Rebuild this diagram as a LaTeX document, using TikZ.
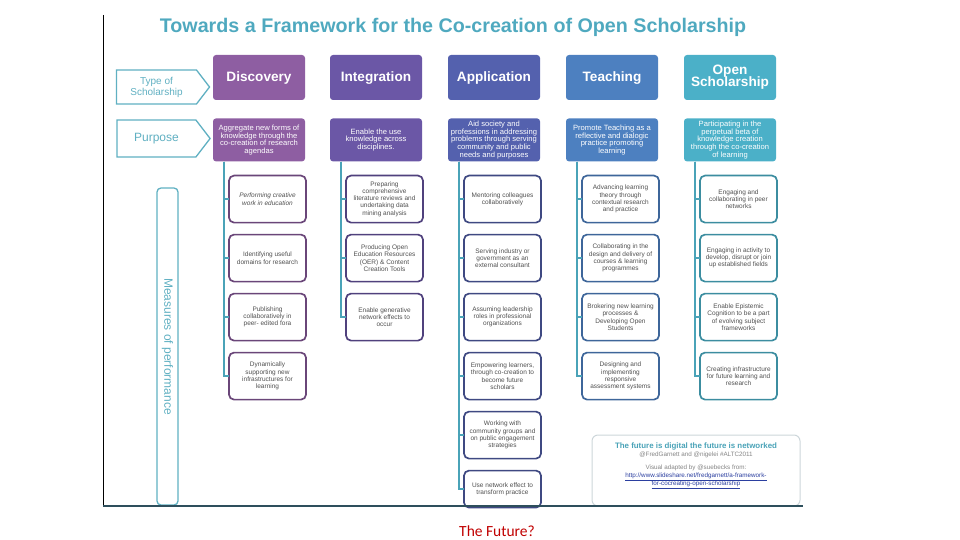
\documentclass[tikz,border=0pt]{standalone}
\usepackage{fontspec}
\setmainfont{Liberation Sans}
\newfontfamily\calib{Carlito}
\usetikzlibrary{positioning,shapes.symbols}
\definecolor{ttlteal}{RGB}{79,169,191}
\definecolor{tagteal}{RGB}{96,176,194}
\definecolor{linkteal}{RGB}{74,163,184}
\definecolor{cdis}{RGB}{142,94,162}
\definecolor{cint}{RGB}{107,87,166}
\definecolor{capp}{RGB}{84,97,174}
\definecolor{ctea}{RGB}{77,128,192}
\definecolor{cops}{RGB}{75,176,200}
\definecolor{txtgray}{RGB}{80,80,80}
\definecolor{notegray}{RGB}{205,214,218}
\definecolor{urlblue}{RGB}{43,63,160}
\definecolor{basecol}{RGB}{46,79,92}
\definecolor{futred}{RGB}{192,0,0}
\tikzset{
  head/.style={rounded corners=3pt, draw=none, text=white, align=center,
              minimum width=92pt, minimum height=45pt, inner sep=2pt, text depth=2.5pt,
              font=\fontsize{13.6}{14}\selectfont\bfseries},
  aim/.style={rounded corners=3pt, draw=none, text=white, align=center,
              minimum width=92pt, minimum height=43pt, inner sep=1pt,
              font=\fontsize{7.6}{7.7}\selectfont},
  perf/.style={rounded corners=5pt, line width=1.7pt, fill=white, align=center,
              minimum width=77pt, minimum height=47pt, inner sep=1pt, outer sep=0pt,
              text=txtgray, font=\fontsize{6.5}{7.2}\selectfont},
  tag/.style={signal, signal to=east, signal pointer angle=105, draw=tagteal,
              line width=1.3pt, fill=white, text=tagteal, align=center,
              minimum width=93pt, inner sep=1pt},
  stem/.style={draw=linkteal, line width=2pt},
}
\begin{document}
\begin{tikzpicture}[x=1pt,y=-1pt]
  \useasboundingbox (0,0) rectangle (960,540);

  \node[text=ttlteal, font=\fontsize{19.7}{21}\selectfont\bfseries] (ttl) at (453,27)
    {Towards a Framework for the Co-creation of Open Scholarship};

  % type of scholarship row
  \node[tag, minimum height=34pt, font=\fontsize{10}{11}\selectfont] (type) at (156.5,87)
    {Type of\\Scholarship};
  \node[head, fill=cdis] (dis) at (259,77.5) {Discovery};
  \node[head, fill=cint] (int) at (376,77.5) {Integration};
  \node[head, fill=capp] (app) at (494,77.5) {Application};
  \node[head, fill=ctea] (tea) at (612,77.5) {Teaching};
  \node[head, fill=cops] (ops) at (730,77.5) {Open\\[-2pt]Scholarship};

  % purpose row
  \node[tag, minimum height=37pt, font=\fontsize{12}{13}\selectfont] (purp) at (156.5,138.5) {Purpose};
  \node[aim, fill=cdis, below=18pt of dis] (disp)
    {Aggregate new forms of\\knowledge through the\\co-creation of research\\agendas};
  \node[aim, fill=cint, below=18pt of int] (intp)
    {Enable the use\\knowledge across\\disciplines.};
  \node[aim, fill=capp, below=18pt of app] (appp)
    {Aid society and\\professions in addressing\\problems through serving\\community and public\\needs and purposes};
  \node[aim, fill=ctea, below=18pt of tea] (teap)
    {Promote Teaching as a\\reflective and dialogic\\practice promoting\\learning};
  \node[aim, fill=cops, below=18pt of ops] (opsp)
    {Participating in the\\perpetual beta of\\knowledge creation\\through the co-creation\\of learning};

  % measures of performance
  \node[draw=tagteal, line width=1.3pt, rounded corners=4pt, rotate=-90,
        minimum width=317pt, minimum height=21pt, inner sep=0pt, text=tagteal,
        font=\fontsize{12}{13}\selectfont] (mop) at (167.5,346.5) {Measures of performance};

  % discovery
  \node[perf, draw=cdis!75!black, below=14pt of disp, xshift=8.5pt] (dis1)
    {\itshape Performing creative\\\itshape work in education};
  \node[perf, draw=cdis!75!black, below=12pt of dis1] (dis2) {Identifying useful\\domains for research};
  \node[perf, draw=cdis!75!black, below=12pt of dis2] (dis3) {Publishing\\collaboratively in\\peer- edited fora};
  \node[perf, draw=cdis!75!black, below=12pt of dis3] (dis4)
    {Dynamically\\supporting new\\infrastructures for\\learning};

  % integration
  \node[perf, draw=cint!75!black, below=14pt of intp, xshift=8.5pt] (int1)
    {Preparing\\comprehensive\\literature reviews and\\undertaking data\\mining analysis};
  \node[perf, draw=cint!75!black, below=12pt of int1] (int2)
    {Producing Open\\Education Resources\\(OER) \& Content\\Creation Tools};
  \node[perf, draw=cint!75!black, below=12pt of int2] (int3) {Enable generative\\network effects to\\occur};

  % application
  \node[perf, draw=capp!75!black, below=14pt of appp, xshift=8.5pt] (app1)
    {Mentoring colleagues\\collaboratively};
  \node[perf, draw=capp!75!black, below=12pt of app1] (app2)
    {Serving industry or\\government as an\\external consultant};
  \node[perf, draw=capp!75!black, below=12pt of app2] (app3)
    {Assuming leadership\\roles in professional\\organizations};
  \node[perf, draw=capp!75!black, below=12pt of app3] (app4)
    {Empowering learners,\\through co-creation to\\become future\\scholars};
  \node[perf, draw=capp!75!black, below=12pt of app4] (app5)
    {Working with\\community groups and\\on public engagement\\strategies};
  \node[perf, draw=capp!75!black, below=12pt of app5, minimum height=37pt] (app6)
    {Use network effect to\\transform practice};

  % teaching
  \node[perf, draw=ctea!80!black, below=14pt of teap, xshift=8.5pt] (tea1)
    {Advancing learning\\theory through\\contextual research\\and practice};
  \node[perf, draw=ctea!80!black, below=12pt of tea1] (tea2)
    {Collaborating in the\\design and delivery of\\courses \& learning\\programmes};
  \node[perf, draw=ctea!80!black, below=12pt of tea2] (tea3)
    {Brokering new learning\\processes \&\\Developing Open\\Students};
  \node[perf, draw=ctea!80!black, below=12pt of tea3] (tea4)
    {Designing and\\implementing\\responsive\\assessment systems};

  % open scholarship
  \node[perf, draw=cops!80!black, below=14pt of opsp, xshift=8.5pt] (ops1)
    {Engaging and\\collaborating in peer\\networks};
  \node[perf, draw=cops!80!black, below=12pt of ops1] (ops2)
    {Engaging in activity to\\develop, disrupt or join\\up established fields};
  \node[perf, draw=cops!80!black, below=12pt of ops2] (ops3)
    {Enable Epistemic\\Cognition to be a part\\of evolving subject\\frameworks};
  \node[perf, draw=cops!80!black, below=12pt of ops3] (ops4)
    {Creating infrastructure\\for future learning and\\research};

  \foreach \k in {1,...,4} \draw[stem] ([xshift=11pt]disp.south west) |- (dis\k.west);
  \foreach \k in {1,...,3} \draw[stem] ([xshift=11pt]intp.south west) |- (int\k.west);
  \foreach \k in {1,...,6} \draw[stem] ([xshift=11pt]appp.south west) |- (app\k.west);
  \foreach \k in {1,...,4} \draw[stem] ([xshift=11pt]teap.south west) |- (tea\k.west);
  \foreach \k in {1,...,4} \draw[stem] ([xshift=11pt]opsp.south west) |- (ops\k.west);

  % note
  \node[draw=notegray, line width=1pt, rounded corners=6pt, fill=white, align=center,
        minimum width=208pt, minimum height=71pt, inner sep=2pt, text=txtgray!70,
        font=\fontsize{6.3}{8}\selectfont] (note) at (696,470.5)
    {{\color{linkteal}\fontsize{7.9}{9}\selectfont\bfseries The future is digital the future is networked}\\
     @FredGarnett and @nigelei \#ALTC2011\\[5pt]
     Visual adapted by @suebecks from:\\
     {\color{urlblue}\underline{http://www.slideshare.net/fredgarnett/a-framework-}}\\
     {\color{urlblue}\underline{for-cocreating-open-scholarship}}\\[4pt]};

  % frame
  \coordinate (ftop) at (103,15);
  \coordinate (fcorner) at (103,506);
  \coordinate (fend) at (803,506);
  \draw[black, line width=1pt] (ftop) -- (fcorner);
  \draw[basecol, line width=2.2pt] (fcorner) -- (fend);

  \node[text=futred, font=\calib\fontsize{15.5}{17}\selectfont] (fut) at (497,531) {The Future?};
\end{tikzpicture}
\end{document}
